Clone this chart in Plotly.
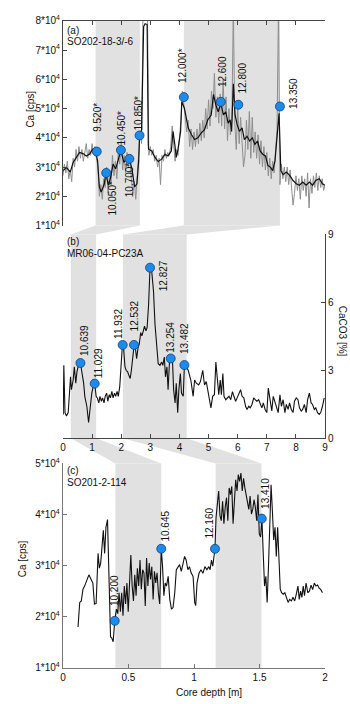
import numpy as np
import plotly.graph_objects as go

# ---------------- DATA ----------------
# Panel (a) SO202-18-3/-6 : raw XRF Ca (gray) and smoothed (black), Ca in 10^4 cps
depth_a_raw = np.round(np.arange(0, 9.0001, 0.05), 2)   # scan sampling grid [m]
ca_a_raw = [
    2.7, 3.1, 2.8, 3.2, 2.6, 2.9, 2.5, 3.3, 3.0, 3.6,
    3.2, 3.7, 3.3, 3.6, 3.2, 3.5, 3.8, 3.3, 3.6, 3.4,
    3.8, 3.5, 3.7, 3.3, 3.0, 2.0, 2.4, 1.9, 2.6, 2.3,
    3.0, 2.1, 2.9, 2.4, 3.4, 2.7, 3.2, 2.6, 3.5, 3.1,
    3.9, 2.9, 3.4, 2.8, 3.5, 3.0, 3.3, 2.6, 2.1, 2.5,
    1.9, 2.7, 3.6, 4.2, 3.8, 8.5, 8.5, 8.5, 8.5, 3.4,
    3.7, 3.4, 3.6, 3.2, 3.4, 3.0, 3.3, 2.4, 3.4, 3.2,
    3.6, 3.3, 3.5, 3.4, 3.7, 4.4, 3.9, 3.2, 3.6, 3.4,
    4.0, 4.6, 5.6, 5.2, 4.6, 4.2, 4.6, 3.7, 4.3, 3.6,
    4.2, 3.7, 4.3, 3.8, 4.5, 3.9, 4.6, 4.0, 5.0, 4.3,
    5.3, 4.4, 5.6, 5.0, 6.2, 4.7, 5.4, 4.5, 5.5, 4.4,
    6.0, 4.3, 5.4, 3.9, 5.0, 4.1, 4.6, 8.5, 4.5, 3.6,
    5.1, 3.8, 4.7, 3.9, 3.0, 3.4, 4.6, 3.6, 4.9, 3.3,
    4.7, 3.5, 4.2, 3.3, 4.1, 3.1, 3.9, 3.0, 3.7, 2.9,
    3.5, 2.7, 3.3, 2.6, 3.2, 2.8, 3.6, 4.3, 8.5, 2.4,
    3.1, 2.6, 3.0, 2.5, 3.0, 2.4, 2.9, 2.2, 1.7, 2.1,
    2.7, 2.2, 2.6, 1.9, 2.7, 2.2, 2.6, 2.0, 2.8, 1.6,
    2.6, 2.1, 2.7, 2.3, 2.8, 2.2, 2.7, 2.3, 2.6, 2.2,
    2.4]

depth_a = [
    0.01, 0.12, 0.25, 0.35, 0.46, 0.57, 0.69, 0.80, 0.91, 1.02,
    1.11, 1.19, 1.25, 1.31, 1.36, 1.42, 1.47, 1.56, 1.64, 1.72,
    1.81, 1.90, 1.99, 2.09, 2.18, 2.28, 2.37, 2.46, 2.54, 2.60,
    2.63, 2.70, 2.77, 2.82, 2.89, 2.93, 2.94, 3.05, 3.16, 3.27,
    3.39, 3.50, 3.61, 3.72, 3.78, 3.84, 3.89, 3.95, 4.04, 4.08,
    4.17, 4.30, 4.41, 4.52, 4.63, 4.75, 4.86, 4.97, 5.09, 5.17,
    5.25, 5.33, 5.42, 5.51, 5.59, 5.67, 5.74, 5.79, 5.85, 5.91,
    5.98, 6.06, 6.15, 6.23, 6.32, 6.41, 6.50, 6.59, 6.68, 6.77,
    6.86, 6.95, 7.04, 7.13, 7.20, 7.28, 7.36, 7.42, 7.48, 7.56,
    7.67, 7.79, 7.90, 8.01, 8.12, 8.23, 8.35, 8.46, 8.57, 8.68,
    8.80, 8.91, 8.99]
ca_a = [
    2.88, 2.99, 2.83, 3.16, 3.33, 3.50, 3.46, 3.38, 3.44, 3.61,
    3.55, 3.21, 2.32, 2.15, 2.27, 2.43, 2.77, 2.38, 2.66, 3.10,
    2.94, 3.27, 3.57, 3.16, 3.27, 3.27, 2.94, 2.32, 2.43, 3.21,
    4.05, 4.28, 7.80, 7.90, 7.87, 3.78, 3.61, 3.55, 3.33, 3.19,
    3.27, 3.44, 3.38, 3.55, 4.22, 3.78, 3.33, 3.61, 4.22, 5.23,
    5.01, 4.34, 4.11, 3.94, 4.00, 4.17, 4.28, 4.61, 4.78, 5.48,
    5.12, 4.89, 5.17, 4.78, 4.89, 4.50, 4.61, 4.22, 5.85, 4.78,
    4.45, 4.22, 4.34, 3.94, 4.05, 3.89, 4.00, 3.78, 3.89, 3.55,
    3.44, 3.38, 3.05, 2.99, 2.88, 3.21, 4.00, 4.84, 2.88, 2.74,
    2.83, 2.71, 2.54, 2.43, 2.38, 2.49, 2.38, 2.49, 2.38, 2.54,
    2.60, 2.43, 2.38]

mark_a_depth = [1.16, 1.485, 1.99, 2.28, 2.63, 4.15, 5.42, 6.02, 7.45]
mark_a_ca = [3.53, 2.80, 3.58, 3.28, 4.08, 5.39, 5.23, 5.13, 5.07]
mark_a_label = ["9.520*", "10.050*", "10.450*", "10.700*", "10.850*",
                "12.000*", "12.600", "12.800", "13.350"]

# Panel (b) MR06-04-PC23A : CaCO3 [%]
depth_b = [
    0.01, 0.03, 0.07, 0.12, 0.18, 0.21, 0.26, 0.29, 0.35, 0.39,
    0.44, 0.48, 0.53, 0.60, 0.64, 0.71, 0.75, 0.82, 0.88, 0.93,
    0.99, 1.05, 1.09, 1.14, 1.18, 1.23, 1.27, 1.32, 1.36, 1.41,
    1.45, 1.50, 1.54, 1.59, 1.63, 1.68, 1.72, 1.77, 1.81, 1.86,
    1.90, 1.95, 1.99, 2.04, 2.08, 2.13, 2.17, 2.22, 2.26, 2.31,
    2.35, 2.40, 2.44, 2.49, 2.53, 2.58, 2.62, 2.67, 2.71, 2.76,
    2.80, 2.85, 2.89, 2.94, 2.99, 3.05, 3.11, 3.16, 3.22, 3.27,
    3.33, 3.39, 3.43, 3.48, 3.52, 3.57, 3.61, 3.66, 3.70, 3.76,
    3.80, 3.85, 3.89, 3.94, 3.98, 4.03, 4.07, 4.13, 4.17, 4.23,
    4.30, 4.39, 4.47, 4.52, 4.58, 4.66, 4.72, 4.80, 4.86, 4.92,
    4.97, 5.03, 5.08, 5.14, 5.20, 5.25, 5.31, 5.35, 5.40, 5.44,
    5.49, 5.53, 5.59, 5.65, 5.70, 5.76, 5.82, 5.87, 5.93, 5.98,
    6.04, 6.10, 6.15, 6.21, 6.27, 6.32, 6.38, 6.43, 6.49, 6.55,
    6.60, 6.66, 6.72, 6.77, 6.83, 6.88, 6.94, 7.00, 7.05, 7.11,
    7.17, 7.22, 7.28, 7.33, 7.39, 7.45, 7.50, 7.56, 7.62, 7.67,
    7.73, 7.78, 7.84, 7.90, 7.95, 8.01, 8.07, 8.12, 8.18, 8.23,
    8.29, 8.35, 8.40, 8.46, 8.52, 8.57, 8.63, 8.68, 8.74, 8.80,
    8.85, 8.91, 8.97]
caco3_b = [
    1.05, 3.22, 1.13, 0.98, 1.13, 1.85, 2.71, 2.14, 2.57, 3.15,
    2.43, 2.93, 3.22, 3.32, 3.00, 2.43, 1.85, 1.41, 0.69, 1.41,
    1.99, 2.35, 2.41, 1.85, 1.78, 1.56, 1.85, 1.63, 1.78, 1.56,
    1.85, 1.99, 1.63, 1.92, 1.78, 2.07, 1.78, 1.99, 1.85, 2.07,
    1.85, 2.28, 2.93, 4.09, 4.01, 3.15, 3.00, 2.93, 2.79, 2.64,
    3.00, 3.58, 4.09, 3.94, 3.51, 4.01, 4.16, 4.66, 4.52, 4.74,
    4.95, 4.74, 4.88, 5.89, 7.53, 7.34, 6.47, 5.03, 3.87, 3.29,
    3.22, 3.36, 3.22, 3.58, 2.71, 3.15, 2.14, 3.44, 3.52, 3.44,
    2.14, 1.56, 2.43, 1.13, 2.14, 2.86, 1.99, 1.85, 3.23, 3.15,
    3.00, 2.57, 1.85, 2.57, 2.43, 2.35, 2.50, 3.00, 2.35, 2.50,
    2.14, 1.70, 1.34, 1.85, 1.92, 3.36, 2.28, 1.92, 2.57, 1.92,
    2.86, 1.85, 1.70, 1.78, 1.85, 1.70, 2.06, 1.85, 1.63, 1.78,
    1.99, 2.14, 1.85, 1.78, 1.41, 1.27, 1.41, 1.34, 1.49, 1.78,
    1.70, 1.63, 1.70, 1.56, 1.34, 1.56, 1.27, 1.13, 2.21, 1.70,
    1.20, 1.85, 1.56, 1.41, 1.13, 1.92, 1.41, 1.70, 1.13, 1.49,
    1.27, 1.56, 1.27, 1.13, 1.63, 1.78, 1.70, 1.34, 1.20, 1.27,
    1.49, 1.13, 1.70, 1.99, 1.56, 1.49, 1.27, 1.34, 1.13, 1.05,
    1.13, 1.41, 1.78]

mark_b_depth = [0.60, 1.09, 2.05, 2.44, 2.99, 3.70, 4.17]
mark_b_val = [3.32, 2.41, 4.12, 4.12, 7.53, 3.52, 3.23]
mark_b_label = ["10.639", "11.029", "11.932", "12.532", "12.827", "13.254", "13.482"]

# Panel (c) SO201-2-114 : Ca in 10^4 cps
depth_c = [
    0.115, 0.128, 0.140, 0.153, 0.165, 0.178, 0.198, 0.215, 0.228, 0.240,
    0.253, 0.268, 0.278, 0.288, 0.298, 0.308, 0.318, 0.328, 0.340, 0.353,
    0.363, 0.373, 0.383, 0.395, 0.408, 0.418, 0.428, 0.438, 0.448, 0.458,
    0.468, 0.478, 0.488, 0.498, 0.508, 0.518, 0.528, 0.538, 0.548, 0.558,
    0.568, 0.578, 0.588, 0.598, 0.608, 0.618, 0.628, 0.638, 0.648, 0.658,
    0.668, 0.678, 0.688, 0.698, 0.708, 0.718, 0.728, 0.738, 0.750, 0.760,
    0.770, 0.780, 0.790, 0.803, 0.815, 0.828, 0.840, 0.853, 0.865, 0.878,
    0.890, 0.903, 0.915, 0.928, 0.940, 0.953, 0.965, 0.978,
    0.993, 1.005, 1.013, 1.023, 1.038, 1.053, 1.068, 1.083, 1.098, 1.113,
    1.123, 1.133, 1.143, 1.160, 1.168, 1.178, 1.188, 1.198, 1.208, 1.218,
    1.228, 1.238, 1.248, 1.258, 1.268, 1.278, 1.288, 1.298, 1.308, 1.318,
    1.328, 1.338, 1.348, 1.358, 1.368, 1.378, 1.388, 1.398, 1.408, 1.418,
    1.428, 1.438, 1.448, 1.458, 1.468, 1.478, 1.488, 1.498, 1.508, 1.518,
    1.528, 1.538, 1.548, 1.558, 1.568, 1.578, 1.588, 1.598, 1.608, 1.618,
    1.628, 1.638, 1.648, 1.658, 1.668, 1.680, 1.693, 1.705, 1.718, 1.730,
    1.743, 1.755, 1.768, 1.780, 1.793, 1.803, 1.813, 1.823, 1.833, 1.843,
    1.855, 1.868, 1.880, 1.893, 1.905, 1.918, 1.930, 1.943, 1.955, 1.968,
    1.980]
ca_c = [
    1.80, 2.28, 2.31, 2.54, 2.60, 2.70, 2.82, 2.73, 2.66, 2.25,
    2.26, 3.24, 2.95, 3.05, 3.33, 3.69, 3.24, 3.75, 3.90, 2.60,
    1.61, 1.58, 1.51, 1.92, 2.15, 2.06, 2.47, 2.10, 2.47, 2.02,
    2.60, 2.25, 2.66, 2.10, 2.73, 3.21, 2.60, 2.31, 2.82, 2.41,
    2.95, 2.60, 3.11, 2.54, 2.92, 2.86, 2.21, 3.15, 2.60, 3.05,
    2.73, 2.98, 2.34, 2.89, 2.66, 2.86, 2.47, 2.25, 3.33, 2.98,
    2.41, 2.66, 2.60, 2.79, 2.34, 2.15, 2.18, 2.47, 2.92, 2.98,
    3.02, 2.89, 3.05, 3.18, 3.11, 2.92, 2.98, 2.86,
    2.79, 2.28, 2.22, 2.66, 2.85, 2.92, 2.85, 2.98, 2.92, 2.98,
    2.92, 3.11, 2.99, 3.33, 3.94, 4.20, 4.46, 3.98, 3.88, 4.26,
    3.82, 4.14, 4.33, 3.88, 4.52, 4.39, 4.55, 3.82, 4.42, 4.68,
    4.46, 4.78, 4.65, 4.81, 4.46, 4.71, 4.52, 4.39, 4.20, 4.10,
    4.36, 4.01, 4.10, 4.29, 4.14, 3.88, 4.39, 3.62, 3.56, 3.92,
    3.24, 2.60, 2.79, 2.28, 2.98, 3.62, 4.58, 4.07, 3.50, 3.75,
    3.18, 3.75, 3.11, 2.54, 2.47, 2.44, 2.47, 2.38, 2.28, 2.34,
    2.31, 2.38, 2.31, 2.44, 2.60, 2.34, 2.50, 2.38, 2.60, 2.41,
    2.66, 2.47, 2.50, 2.62, 2.53, 2.66, 2.60, 2.62, 2.56, 2.53,
    2.47]

mark_c_depth = [0.395, 0.75, 1.16, 1.517]
mark_c_ca = [1.92, 3.33, 3.33, 3.92]
mark_c_label = ["10.200", "10.645", "12.160", "13.410"]

# Correlated depth intervals (shaded)
band_a = [(1.12, 2.64), (4.15, 7.45)]
band_b = [(0.27, 1.14), (2.06, 4.25)]
band_c = [(0.40, 0.75), (1.165, 1.515)]

ca_ticks = [1, 2, 3, 4, 5, 6, 7, 8]
caco3_ticks = [0, 3, 6, 9]
depth_ticks_ab = [0, 1, 2, 3, 4, 5, 6, 7, 8, 9]
depth_ticks_c = [0, 0.5, 1, 1.5, 2]

# ---------------- STYLE / LAYOUT ----------------
W, H = 350, 704
XD = [61 / W, 327.7 / W]
YA = [1 - 222.7 / H, 1 - 14 / H]
YB = [1 - 439.3 / H, 1 - 231.7 / H]
YC = [1 - 673.3 / H, 1 - 465 / H]
RX_AB = [0, 9]
RX_C = [0, 2]
FONT = "Liberation Sans, Arial, sans-serif"
BAND = "#e1e1e1"
MFILL = "#1a8cf0"
MLINE = "#1b3d6b"

# label offsets (pixels): dx horizontal, dy gap, below-flag
lab_a_dx = [0, 6, 1, 0, -1, -1.5, 1, 4, 14]
lab_a_dy = [18, -6, 3, -1.5, 3, 12, 13, 9, -4]
lab_a_below = [False, True, False, True, False, False, False, False, False]
lab_b_dx = [4, 4, -3.7, 0, 13, 0, 0]
lab_b_dy = [5, 3, 4, 11, -26, 4, 9]
lab_c_dx = [0, 4, -5.7, 3]
lab_c_dy = [13, 5, 8, 8]


def px(d, rng):
    return XD[0] + (d - rng[0]) / (rng[1] - rng[0]) * (XD[1] - XD[0])


fig = go.Figure()

# Panel a
fig.add_trace(go.Scatter(x=depth_a_raw, y=np.array(ca_a_raw) * 1e4, mode="lines",
                         line=dict(color="#8e8e8e", width=1), xaxis="x", yaxis="y",
                         hoverinfo="skip"))
fig.add_trace(go.Scatter(x=depth_a, y=np.array(ca_a) * 1e4, mode="lines",
                         line=dict(color="#111111", width=1.2), xaxis="x", yaxis="y"))
fig.add_trace(go.Scatter(x=mark_a_depth, y=np.array(mark_a_ca) * 1e4, mode="markers",
                         marker=dict(size=9, color=MFILL, line=dict(color=MLINE, width=0.8)),
                         xaxis="x", yaxis="y", cliponaxis=False))
# Panel b
fig.add_trace(go.Scatter(x=depth_b, y=caco3_b, mode="lines",
                         line=dict(color="#111111", width=1.1), xaxis="x2", yaxis="y2"))
fig.add_trace(go.Scatter(x=mark_b_depth, y=mark_b_val, mode="markers",
                         marker=dict(size=9, color=MFILL, line=dict(color=MLINE, width=0.8)),
                         xaxis="x2", yaxis="y2", cliponaxis=False))
# Panel c
fig.add_trace(go.Scatter(x=depth_c, y=np.array(ca_c) * 1e4, mode="lines",
                         line=dict(color="#111111", width=1.1), xaxis="x3", yaxis="y3"))
fig.add_trace(go.Scatter(x=mark_c_depth, y=np.array(mark_c_ca) * 1e4, mode="markers",
                         marker=dict(size=9, color=MFILL, line=dict(color=MLINE, width=0.8)),
                         xaxis="x3", yaxis="y3", cliponaxis=False))

shapes = []
for (x0, x1) in band_a:
    shapes.append(dict(type="rect", xref="x", yref="y domain", x0=x0, x1=x1, y0=0, y1=1,
                       fillcolor=BAND, line=dict(width=0), layer="below"))
for (x0, x1) in band_b:
    shapes.append(dict(type="rect", xref="x2", yref="y2 domain", x0=x0, x1=x1, y0=0, y1=1,
                       fillcolor=BAND, line=dict(width=0), layer="below"))
for (x0, x1) in band_c:
    shapes.append(dict(type="rect", xref="x3", yref="y3 domain", x0=x0, x1=x1, y0=0, y1=1,
                       fillcolor=BAND, line=dict(width=0), layer="below"))
# connectors a -> b
for (a0, a1), (b0, b1) in zip(band_a, band_b):
    path = "M {:.5f},{:.5f} L {:.5f},{:.5f} L {:.5f},{:.5f} L {:.5f},{:.5f} Z".format(
        px(a0, RX_AB), YA[0], px(a1, RX_AB), YA[0], px(b1, RX_AB), YB[1], px(b0, RX_AB), YB[1])
    shapes.append(dict(type="path", xref="paper", yref="paper", path=path,
                       fillcolor=BAND, line=dict(width=0), layer="below"))
# connectors b -> c
for (b0, b1), (c0, c1) in zip(band_b, band_c):
    path = "M {:.5f},{:.5f} L {:.5f},{:.5f} L {:.5f},{:.5f} L {:.5f},{:.5f} Z".format(
        px(b0, RX_AB), YB[0], px(b1, RX_AB), YB[0], px(c1, RX_C), YC[1], px(c0, RX_C), YC[1])
    shapes.append(dict(type="path", xref="paper", yref="paper", path=path,
                       fillcolor=BAND, line=dict(width=0), layer="below"))

ann = []


def add_labels(xs, ys, labels, dxs, dys, xref, yref, below=None, scale=1.0):
    for i, (xv, yv, t) in enumerate(zip(xs, ys, labels)):
        b = below[i] if below else False
        ann.append(dict(x=xv, y=yv * scale, xref=xref, yref=yref, text=t, showarrow=False,
                        textangle=-90, xanchor="center", yanchor="top" if b else "bottom",
                        xshift=dxs[i], yshift=dys[i], font=dict(size=10, color="#111", family=FONT)))


add_labels(mark_a_depth, mark_a_ca, mark_a_label, lab_a_dx, lab_a_dy, "x", "y", lab_a_below, 1e4)
add_labels(mark_b_depth, mark_b_val, mark_b_label, lab_b_dx, lab_b_dy, "x2", "y2")
add_labels(mark_c_depth, mark_c_ca, mark_c_label, lab_c_dx, lab_c_dy, "x3", "y3", None, 1e4)


def ptxt(x, y, t, angle=0, xanchor="left", size=10):
    ann.append(dict(x=x / W, y=1 - y / H, xref="paper", yref="paper", text=t, showarrow=False,
                    textangle=angle, xanchor=xanchor, yanchor="middle",
                    font=dict(size=size, color="#111", family=FONT)))


ptxt(63, 24, "(a)")
ptxt(63, 35.5, "SO202-18-3/-6")
ptxt(63, 239, "(b)")
ptxt(63, 251, "MR06-04-PC23A")
ptxt(63, 472, "(c)")
ptxt(63, 484, "SO201-2-114")
ptxt(28, 104, "Ca [cps]", angle=-90, xanchor="center")
ptxt(20, 562, "Ca [cps]", angle=-90, xanchor="center")
ptxt(345, 330, "CaCO3 [%]", angle=90, xanchor="center", size=10)
ptxt(210, 698, "Core depth [m]", xanchor="center")

AX = dict(showgrid=False, zeroline=False, showline=True, linecolor="#444", linewidth=1,
          ticks="inside", ticklen=4, tickcolor="#444", tickwidth=1,
          tickfont=dict(size=10, color="#111", family=FONT))
AXC = dict(AX, linecolor="#777", linewidth=1.4, tickcolor="#777")

fig.update_layout(
    width=W, height=H, margin=dict(l=0, r=0, t=0, b=0),
    paper_bgcolor="white", plot_bgcolor="rgba(0,0,0,0)", showlegend=False,
    font=dict(family=FONT, size=10, color="#111"),
    shapes=shapes, annotations=ann,
    xaxis=dict(AX, domain=XD, range=RX_AB, anchor="y", side="top",
               tickvals=depth_ticks_ab, showticklabels=False),
    yaxis=dict(AX, domain=YA, range=[1e4, 8e4], anchor="x",
               tickvals=[v * 1e4 for v in ca_ticks],
               ticktext=["%d*10<sup>4</sup>" % v for v in ca_ticks]),
    xaxis2=dict(AX, domain=XD, range=RX_AB, anchor="y2",
                tickvals=depth_ticks_ab, ticktext=[str(v) for v in depth_ticks_ab]),
    yaxis2=dict(AX, domain=YB, range=[0, 9], anchor="x2", side="right",
                tickvals=caco3_ticks, ticktext=[str(v) for v in caco3_ticks]),
    xaxis3=dict(AXC, domain=XD, range=RX_C, anchor="y3",
                tickvals=depth_ticks_c, ticktext=["0", "0.5", "1", "1.5", "2"]),
    yaxis3=dict(AXC, domain=YC, range=[1e4, 5e4], anchor="x3",
                tickvals=[v * 1e4 for v in ca_ticks[:5]],
                ticktext=["%d*10<sup>4</sup>" % v for v in ca_ticks[:5]]),
)

fig.write_html("out.html")
